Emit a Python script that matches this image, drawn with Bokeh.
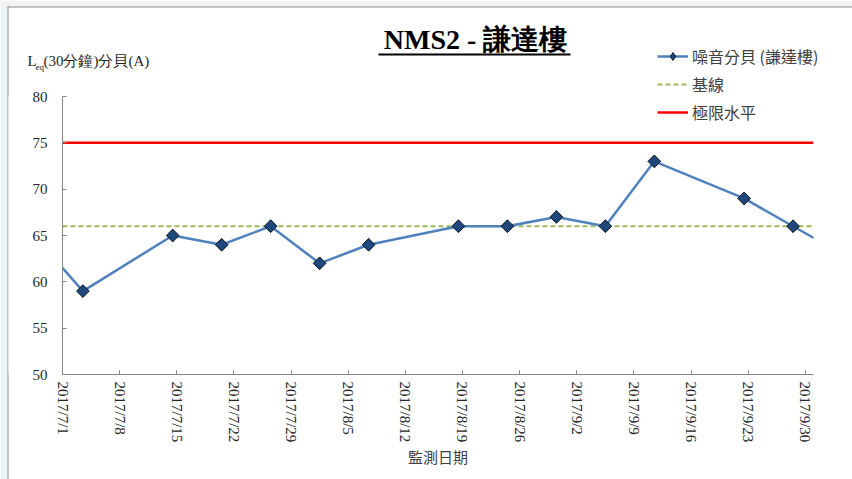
import pandas as pd
from bokeh.plotting import figure
from bokeh.models import Range1d, FixedTicker, Legend, LegendItem, Label, BoxAnnotation
from bokeh.embed import file_html
from bokeh.resources import INLINE
import math

# ---------------- data ----------------
measure_dates = ["2017-06-27", "2017-07-03", "2017-07-14", "2017-07-20", "2017-07-26",
                 "2017-08-01", "2017-08-07", "2017-08-18", "2017-08-24", "2017-08-30",
                 "2017-09-05", "2017-09-11", "2017-09-22", "2017-09-28", "2017-10-04"]
noise_db = [65, 59, 65, 64, 66, 62, 64, 66, 66, 67, 66, 73, 69, 66, 63]
baseline_db = 66
limit_db = 75
axis_start = "2017-07-01"
axis_end = "2017-10-01"
tick_dates = ["2017-07-01", "2017-07-08", "2017-07-15", "2017-07-22", "2017-07-29",
              "2017-08-05", "2017-08-12", "2017-08-19", "2017-08-26", "2017-09-02",
              "2017-09-09", "2017-09-16", "2017-09-23", "2017-09-30"]
tick_labels = ["2017/7/1", "2017/7/8", "2017/7/15", "2017/7/22", "2017/7/29",
               "2017/8/5", "2017/8/12", "2017/8/19", "2017/8/26", "2017/9/2",
               "2017/9/9", "2017/9/16", "2017/9/23", "2017/9/30"]
y_ticks = [50, 55, 60, 65, 70, 75, 80]
series_name = "噪音分貝 (謙達樓)"
baseline_name = "基線"
limit_name = "極限水平"
title_text = "NMS2 - 謙達樓"
x_title = "監測日期"

# ---------------- layout (pixels) ----------------
W, H = 852, 479
AX_L, AX_R = 62, 813         # where the x axis runs horizontally
AX_T, AX_B = 96, 374         # where the y axis runs vertically
FB = H                       # frame bottom (frame covers whole canvas)

t0 = pd.Timestamp(axis_start)
x_end = (pd.Timestamp(axis_end) - t0).days
# Excel date axis: points sit in the middle of their day
xs = [(pd.Timestamp(d) - t0).days + 0.5 for d in measure_dates]
tick_x = [(pd.Timestamp(d) - t0).days for d in tick_dates]

ppd = (AX_R - AX_L) / x_end
ppu = (AX_B - AX_T) / (y_ticks[-1] - y_ticks[0])
xr = Range1d(-AX_L / ppd, x_end + (W - AX_R) / ppd)
yr = Range1d(y_ticks[0] - (H - AX_B) / ppu, y_ticks[-1] + AX_T / ppu)

SERIF = "Liberation Serif"
SANS = "Noto Sans CJK TC"

p = figure(width=W, height=H, output_backend="svg", toolbar_location=None, title=None,
           x_range=xr, y_range=yr,
           min_border_left=0, min_border_right=0, min_border_top=0, min_border_bottom=0)
p.outline_line_color = None
p.background_fill_color = "white"
p.border_fill_color = "white"
p.xgrid.visible = False
p.ygrid.visible = False

# page decoration: light strip + border of the chart picture
for box in (dict(left=0, right=7, bottom=0, top=H, fill_color="#E9F4F7"),
            dict(left=0, right=W, bottom=H - 6, top=H, fill_color="#F3F3F3"),
            dict(left=7, right=8, bottom=0, top=H - 6, fill_color="#8C8C8C"),
            dict(left=7, right=W, bottom=H - 7, top=H - 6, fill_color="#8C8C8C")):
    p.add_layout(BoxAnnotation(left_units="screen", right_units="screen",
                               bottom_units="screen", top_units="screen",
                               fill_alpha=1, line_color=None, level="underlay", **box))

# limit & baseline lines
r_lim = p.line([0, x_end], [limit_db, limit_db], line_color="#FF0000", line_width=2.5)
r_base = p.line([0, x_end], [baseline_db, baseline_db], line_color="#9BBB59",
                line_width=2, line_dash="5 3")
# series
r_line = p.line(xs, noise_db, line_color="#4F81BD", line_width=2.5)
# diamond glyph used for the legend swatch (sits hidden under the plotted markers)
r_key = p.scatter(xs, noise_db, marker="diamond", size=12,
                  fill_color="#1F497D", line_color="#101820", line_width=1)
r_pts = p.scatter(xs, noise_db, marker="square", angle=math.pi / 4, size=9,
                  fill_color="#1F497D", line_color="#101820", line_width=1)

# plot-area clipping of the series beyond the axis extent
for kw in (dict(left=8, left_units="screen", right=0), dict(left=x_end)):
    p.add_layout(BoxAnnotation(top=y_ticks[-1], bottom=y_ticks[0], fill_color="white",
                               fill_alpha=1, line_color=None, level="glyph", **kw))

# axes
for ax in (p.xaxis[0], p.yaxis[0]):
    ax.axis_line_color = "#868686"
    ax.major_tick_line_color = "#868686"
    ax.major_tick_in = 4
    ax.major_tick_out = 0
    ax.minor_tick_line_color = None
    ax.major_label_text_font = SERIF
    ax.major_label_text_color = "#262626"

p.yaxis.ticker = FixedTicker(ticks=y_ticks)
p.yaxis.bounds = (y_ticks[0], y_ticks[-1])
p.yaxis.fixed_location = 0
p.yaxis.major_label_standoff = 15
p.yaxis.major_label_text_font_size = "15px"

p.xaxis.ticker = FixedTicker(ticks=tick_x)
p.xaxis.bounds = (0, x_end)
p.xaxis.fixed_location = y_ticks[0]
p.xaxis.major_label_overrides = {tx: lab for tx, lab in zip(tick_x, tick_labels)}
p.xaxis.major_label_orientation = -math.pi / 2
p.xaxis.major_label_standoff = 7
p.xaxis.major_label_text_font_size = "15px"
p.xaxis.axis_label = x_title
p.xaxis.axis_label_text_font = SANS
p.xaxis.axis_label_text_font_size = "15px"
p.xaxis.axis_label_text_font_style = "normal"
p.xaxis.axis_label_text_color = "#404040"
p.xaxis.axis_label_standoff = 1

# legend
legend = Legend(items=[
    LegendItem(label=series_name, renderers=[r_line, r_key]),
    LegendItem(label=baseline_name, renderers=[r_base]),
    LegendItem(label=limit_name, renderers=[r_lim]),
], location=(657, FB - 124), orientation="vertical")
legend.border_line_color = None
legend.background_fill_alpha = 0
legend.padding = 0
legend.margin = 0
legend.spacing = 4
legend.glyph_width = 31
legend.glyph_height = 20
legend.label_height = 20
legend.label_standoff = 4
legend.label_text_font = SANS
legend.label_text_font_size = "16px"
legend.label_text_color = "#404040"
p.add_layout(legend)

# title (centered text with underline); screen units are relative to the frame
p.add_layout(Label(x=475, y=FB - 39, x_units="screen", y_units="screen",
                   text=title_text, text_align="center", text_baseline="alphabetic",
                   text_font=SERIF, text_font_size="28px", text_font_style="bold",
                   text_color="black"))
p.add_layout(BoxAnnotation(left=378, right=570, bottom=FB - 55, top=FB - 53,
                           left_units="screen", right_units="screen",
                           bottom_units="screen", top_units="screen",
                           fill_color="black", fill_alpha=1, line_color=None))

# y-axis caption: L_eq(30分鐘)分貝(A)
p.add_layout(Label(x=27, y=FB - 68, x_units="screen", y_units="screen", text="L",
                   text_font=SERIF, text_font_size="15px", text_color="#262626"))
p.add_layout(Label(x=35, y=FB - 71, x_units="screen", y_units="screen", text="eq",
                   text_font=SERIF, text_font_size="9px", text_color="#262626"))
p.add_layout(Label(x=43, y=FB - 68, x_units="screen", y_units="screen",
                   text="(30分鐘)分貝(A)",
                   text_font=SERIF, text_font_size="15px", text_color="#262626"))

open("out.html", "w").write(file_html(p, INLINE))
